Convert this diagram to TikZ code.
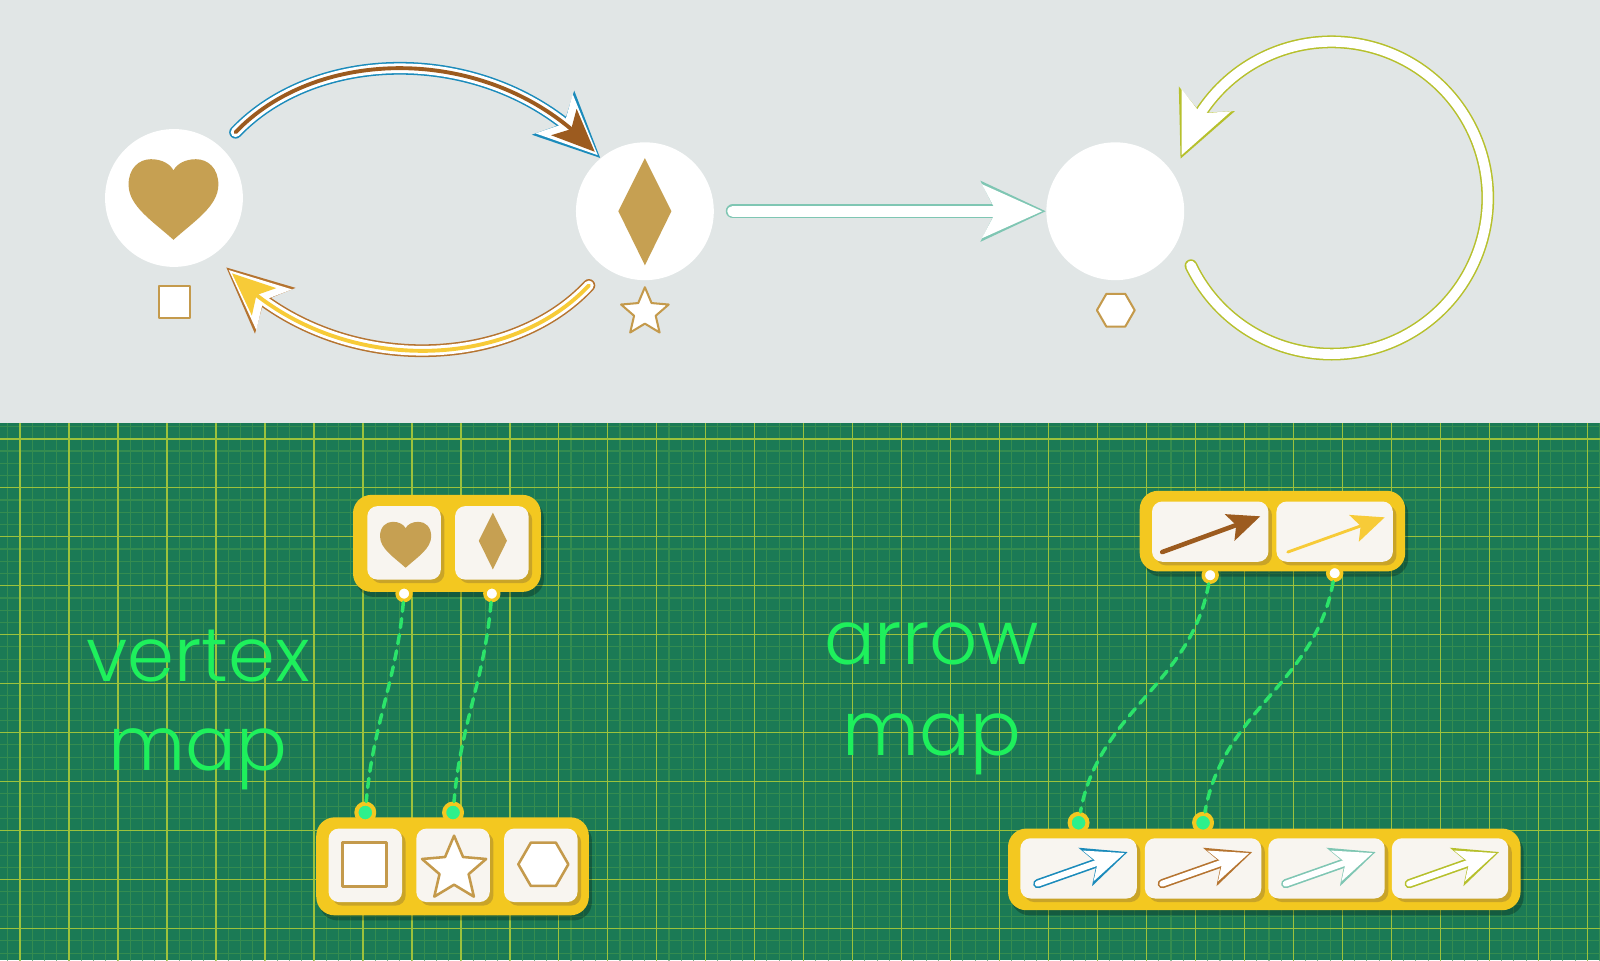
\documentclass[tikz,border=0pt]{standalone}
\usepackage{fontspec}
\newfontfamily\mapfont{Poppins Light}
\usetikzlibrary{arrows.meta,bending,shapes.geometric,shadows,calc}

\definecolor{topbg}{HTML}{E1E6E6}
\definecolor{gridbg}{HTML}{1B7A55}
\definecolor{gridminor}{HTML}{348C50}
\definecolor{gridmajor}{HTML}{9CC23C}
\definecolor{labelgreen}{HTML}{1EF05C}
\definecolor{panelyellow}{HTML}{F3C820}
\definecolor{tilewhite}{HTML}{F8F5F0}
\definecolor{tileshadow}{HTML}{B8962C}
\definecolor{shapegold}{HTML}{C6A052}
\definecolor{shapeline}{HTML}{C49A4C}
\definecolor{portgreen}{HTML}{2EF08C}
\definecolor{dashgreen}{HTML}{2BE46A}
\definecolor{edgeblue}{HTML}{1B8BBB}
\definecolor{edgebrown}{HTML}{9C5B1F}
\definecolor{edgeochre}{HTML}{B57430}
\definecolor{edgeyellow}{HTML}{F7CB38}
\definecolor{edgeteal}{HTML}{7FC6B3}
\definecolor{edgeolive}{HTML}{B6C02C}

\tikzset{
  headout/.tip={Stealth[length=0.64cm,width=0.6cm,inset=0.15cm,line width=0pt]},
  headwhite/.tip={Stealth[length=0.59cm,width=0.53cm,inset=0.14cm,line width=0pt]},
  headin/.tip={Stealth[length=0.42cm,width=0.36cm,inset=0.1cm,line width=0pt]},
  smallout/.tip={Stealth[length=0.44cm,width=0.4cm,inset=0.12cm,line width=0pt]},
  smallwhite/.tip={Stealth[length=0.38cm,width=0.32cm,inset=0.1cm,line width=0pt]},
  solidtip/.tip={Stealth[length=0.32cm,width=0.28cm,inset=0.07cm,line width=0pt]},
  edgeout/.style={line width=0.125cm,-{headout}},
  edgewhite/.style={white,line width=0.095cm,-{headwhite},shorten >=0.035cm},
  edgein/.style={line width=0.038cm,-{headin},shorten >=0.08cm},
  vertexnode/.style={circle,fill=white,minimum size=1.35cm,inner sep=0pt},
  marksq/.style={rectangle,draw=shapeline,fill=white,line width=0.02cm,inner sep=0pt},
  markstar/.style={star,star points=5,star point ratio=2.2,draw=shapeline,fill=white,line width=0.02cm,inner sep=0pt},
  markhex/.style={regular polygon,regular polygon sides=6,draw=shapeline,fill=white,line width=0.02cm,inner sep=0pt},
  panelbox/.style={rectangle,rounded corners=0.18cm,fill=panelyellow,inner sep=0pt,
    drop shadow={shadow xshift=0.03cm,shadow yshift=-0.05cm,opacity=0.25,fill=black}},
  tilebox/.style={rectangle,rounded corners=0.1cm,fill=tilewhite,inner sep=0pt,
    drop shadow={shadow xshift=0.035cm,shadow yshift=-0.035cm,opacity=0.7,fill=tileshadow}},
  vtile/.style={tilebox,minimum width=0.72cm,minimum height=0.72cm},
  atile/.style={tilebox,minimum width=1.14cm,minimum height=0.59cm},
  portw/.style={circle,fill=white,draw=panelyellow,line width=0.035cm,minimum size=0.135cm,inner sep=0pt},
  portg/.style={circle,fill=portgreen,draw=panelyellow,line width=0.04cm,minimum size=0.175cm,inner sep=0pt},
  mapline/.style={dashgreen,line width=0.034cm,dash pattern=on 0.09cm off 0.07cm,line cap=round},
  maptext/.style={font=\mapfont\fontsize{21}{25}\selectfont,text=labelgreen,inner sep=0pt,anchor=base},
  heartpic/.pic={\fill (0,41) .. controls (-20,23) and (-44,8) .. (-44,-13)
    .. controls (-44,-29) and (-34,-38) .. (-22,-38)
    .. controls (-11,-38) and (-3,-33) .. (0,-27)
    .. controls (3,-33) and (11,-38) .. (22,-38)
    .. controls (34,-38) and (44,-29) .. (44,-13)
    .. controls (44,8) and (20,23) .. (0,41) -- cycle;},
  gempic/.pic={\fill (0,-52) -- (26,0) -- (0,53) -- (-26,0) -- cycle;}
}

\begin{document}
\begin{tikzpicture}[line cap=round,line join=round,x=0.01cm,y=-0.01cm]
\useasboundingbox (0,0) rectangle (1568,941);

% cutting mat
\fill[gridbg] (0,400) rectangle (1568,941);
\foreach \k in {0,...,130} \draw[gridminor,line width=0.3pt] ({7.6+12*\k},415) -- ({7.6+12*\k},941);
\foreach \k in {0,...,43} \draw[gridminor,line width=0.3pt] (0,{418+12*\k}) -- (1568,{418+12*\k});
\foreach \k in {0,...,32} \draw[gridmajor,line width=0.4pt] ({19.6+48*\k},415) -- ({19.6+48*\k},941);
\foreach \k in {0,...,10} \draw[gridmajor,line width=0.4pt] (0,{430+48*\k}) -- (1568,{430+48*\k});
\fill[topbg] (0,0) rectangle (1568,415);

% the graph
\node[vertexnode] (vheart) at (170.5,194) {};
\node[vertexnode] (vgem) at (632,207) {};
\node[vertexnode] (vblank) at (1093,207) {};
\pic[shapegold] at (170,194) {heartpic};
\pic[shapegold] at (632,207) {gempic};
\node[marksq,minimum size=0.31cm] (lsquare) at (171,296) {};
\node[markstar,minimum size=0.49cm] (lstar) at (632,306) {};
\node[markhex,minimum size=0.37cm] (lhex) at (1093.5,304) {};

\coordinate (hin) at ($(vheart.center)!1.25!(vheart.-53)$);
\coordinate (loopc) at ([shift={(212,-13)}]vblank.center);

\foreach \lay/\col in {edgeout/edgeblue,edgewhite/white,edgein/edgebrown}
  \draw[\lay,\col,shorten <=0.2cm] (vheart.47) to[bend left=48] (vgem.130);
\foreach \lay/\col in {edgeout/edgeochre,edgewhite/white,edgein/edgeyellow}
  \draw[\lay,\col,shorten <=0.23cm] (vgem.-125) to[bend left=47] (hin);
\foreach \lay/\col/\w in {edgeout/edgeteal/0.14cm,edgewhite/white/0.11cm}
  \draw[\lay,\col,line width=\w,shorten <=0.18cm] (vgem.east) -- (vblank.west);
\foreach \lay/\col in {edgeout/edgeolive,edgewhite/white}
  \draw[\lay,\col] ([shift={(154.3:153)}]loopc) arc[start angle=154.3,end angle=-165.4,radius=153];

% vertex map
\node[panelbox,minimum width=1.84cm,minimum height=0.95cm] (vsrc) at (438,532.5) {};
\node[panelbox,minimum width=2.67cm,minimum height=0.96cm] (vtgt) at (443.5,849) {};
\node[vtile] (srcheart) at (396,532) {};
\node[vtile] (srcgem) at (482,532) {};
\node[vtile] (tgtsq) at (358,848) {};
\node[vtile] (tgtstar) at (444,848) {};
\node[vtile] (tgthex) at (530,848) {};
\pic[shapegold,scale=0.57] at (397.5,533) {heartpic};
\pic[shapegold,scale=0.53] at (483,530) {gempic};
\node[marksq,minimum size=0.43cm,line width=0.025cm] (sqin) at (357,847) {};
\node[markstar,minimum size=0.66cm,line width=0.025cm] (starin) at (445,852) {};
\node[markhex,minimum size=0.49cm,line width=0.025cm] (hexin) at (532.5,847) {};

\node[portw] (pheart) at ([yshift=-0.01cm]srcheart |- vsrc.south) {};
\node[portw] (pgem) at ([yshift=-0.01cm]srcgem |- vsrc.south) {};
\node[portg] (psq) at ([yshift=0.04cm]tgtsq |- vtgt.north) {};
\node[portg] (pstar) at ([yshift=0.04cm]tgtstar |- vtgt.north) {};
\draw[mapline] (pheart) to[out=-95,in=85] (psq);
\draw[mapline] (pgem) to[out=-95,in=85] (pstar);

\node[maptext] (vword) at (194,668) {vertex};
\node[maptext] (vmap) at (194,755) {map};

% arrow map
\node[panelbox,minimum width=2.6cm,minimum height=0.79cm] (asrc) at (1247,520.5) {};
\node[panelbox,minimum width=5.02cm,minimum height=0.8cm] (atgt) at (1239,852) {};
\node[atile] (srcbrown) at (1186,521) {};
\node[atile] (srcyellow) at (1308,521) {};
\node[atile] (tgtblue) at (1057,851) {};
\node[atile] (tgtochre) at (1179,851) {};
\node[atile] (tgtteal) at (1300,851) {};
\node[atile] (tgtolive) at (1421,851) {};

\draw[edgebrown,line width=0.045cm,-{solidtip}] ([shift={(-47,20)}]srcbrown.center) -- ([shift={(49,-15)}]srcbrown.center);
\draw[edgeyellow,line width=0.028cm,-{solidtip}] ([shift={(-46,20)}]srcyellow.center) -- ([shift={(49,-14)}]srcyellow.center);
\foreach \t/\c in {tgtblue/edgeblue,tgtochre/edgeochre,tgtteal/edgeteal,tgtolive/edgeolive}{
  \draw[\c,line width=0.09cm,-{smallout}] ([shift={(-40,15)}]\t.center) -- ([shift={(48,-16)}]\t.center);
  \draw[white,line width=0.058cm,-{smallwhite},shorten >=0.03cm] ([shift={(-40,15)}]\t.center) -- ([shift={(48,-16)}]\t.center);
}

\node[portw] (pbrown) at ([yshift=-0.03cm]srcbrown |- asrc.south) {};
\node[portw] (pyellow) at ([yshift=-0.01cm]srcyellow |- asrc.south) {};
\node[portg] (pblue) at ([yshift=0.05cm]tgtblue |- atgt.north) {};
\node[portg] (pochre) at ([yshift=0.05cm]tgtochre |- atgt.north) {};
\draw[mapline] (pbrown) to[out=-100,in=80] (pblue);
\draw[mapline] (pyellow) to[out=-100,in=80] (pochre);

\node[maptext] (aword) at (913,651) {arrow};
\node[maptext] (amap) at (913,740) {map};
\end{tikzpicture}
\end{document}
